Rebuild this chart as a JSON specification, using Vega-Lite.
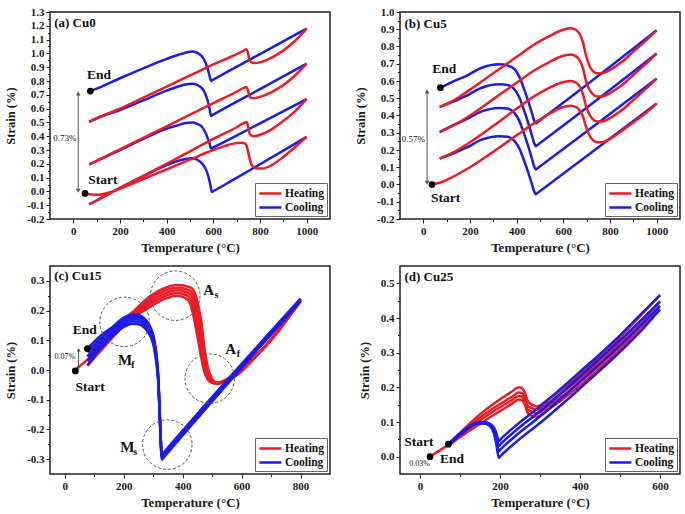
{
"$schema":"https://vega.github.io/schema/vega-lite/v6.json",
"background":"white",
"padding":{"left":3,"top":5,"right":0,"bottom":0},
"config":{
 "view":{"stroke":"#222","strokeWidth":1.5},
 "axis":{"grid":false,"domain":false,"labelFont":"Liberation Serif","labelFontWeight":"bold","labelFontSize":11,"labelColor":"#1a1a1a","titleFont":"Liberation Serif","titleFontWeight":"bold","titleFontSize":13,"titleColor":"#1a1a1a","tickColor":"#222","tickWidth":1,"labelPadding":2,"labelFlush":false,"labelOverlap":false},
 "axisX":{"titlePadding":5},
 "axisY":{"titlePadding":9,"titleFontSize":12.5},
 "legend":{"orient":"bottom-right","offset":3,"strokeColor":"#666","fillColor":"white","padding":3,"symbolType":"M-1,0L2.6,0","symbolStrokeWidth":2.5,"symbolSize":150,"labelFont":"Liberation Serif","labelFontWeight":"bold","labelFontSize":11.5,"labelColor":"#111","rowPadding":1,"labelOffset":12,"cornerRadius":0}
},
"datasets":{
"a":[
{"k":"Heating","c":1,"t":50,"s":-0.015},{"k":"Heating","c":1,"t":80,"s":-0.022},{"k":"Heating","c":1,"t":110,"s":-0.024},{"k":"Heating","c":1,"t":150,"s":-0.01},{"k":"Heating","c":1,"t":200,"s":0.02},{"k":"Heating","c":1,"t":300,"s":0.09},{"k":"Heating","c":1,"t":400,"s":0.16},{"k":"Heating","c":1,"t":500,"s":0.23},{"k":"Heating","c":1,"t":600,"s":0.3},{"k":"Heating","c":1,"t":650,"s":0.33},{"k":"Heating","c":1,"t":690,"s":0.348},{"k":"Heating","c":1,"t":720,"s":0.352},{"k":"Heating","c":1,"t":738,"s":0.345},{"k":"Heating","c":1,"t":746,"s":0.31},{"k":"Heating","c":1,"t":754,"s":0.25},{"k":"Heating","c":1,"t":762,"s":0.2},{"k":"Heating","c":1,"t":772,"s":0.175},{"k":"Heating","c":1,"t":790,"s":0.166},{"k":"Heating","c":1,"t":810,"s":0.166},{"k":"Heating","c":1,"t":850,"s":0.19},{"k":"Heating","c":1,"t":900,"s":0.25},{"k":"Heating","c":1,"t":950,"s":0.32},{"k":"Heating","c":1,"t":1000,"s":0.395},
{"k":"Heating","c":2,"t":68,"s":-0.094},{"k":"Heating","c":2,"t":100,"s":-0.066},{"k":"Heating","c":2,"t":200,"s":0.025},{"k":"Heating","c":2,"t":300,"s":0.112},{"k":"Heating","c":2,"t":400,"s":0.2},{"k":"Heating","c":2,"t":500,"s":0.29},{"k":"Heating","c":2,"t":600,"s":0.38},{"k":"Heating","c":2,"t":700,"s":0.465},{"k":"Heating","c":2,"t":730,"s":0.495},{"k":"Heating","c":2,"t":742,"s":0.502},{"k":"Heating","c":2,"t":748,"s":0.48},{"k":"Heating","c":2,"t":754,"s":0.43},{"k":"Heating","c":2,"t":760,"s":0.408},{"k":"Heating","c":2,"t":772,"s":0.4},{"k":"Heating","c":2,"t":800,"s":0.41},{"k":"Heating","c":2,"t":850,"s":0.45},{"k":"Heating","c":2,"t":900,"s":0.51},{"k":"Heating","c":2,"t":950,"s":0.58},{"k":"Heating","c":2,"t":1000,"s":0.668},
{"k":"Heating","c":3,"t":68,"s":0.195},{"k":"Heating","c":3,"t":100,"s":0.222},{"k":"Heating","c":3,"t":200,"s":0.305},{"k":"Heating","c":3,"t":300,"s":0.388},{"k":"Heating","c":3,"t":400,"s":0.472},{"k":"Heating","c":3,"t":500,"s":0.556},{"k":"Heating","c":3,"t":600,"s":0.64},{"k":"Heating","c":3,"t":700,"s":0.722},{"k":"Heating","c":3,"t":730,"s":0.75},{"k":"Heating","c":3,"t":742,"s":0.757},{"k":"Heating","c":3,"t":748,"s":0.735},{"k":"Heating","c":3,"t":754,"s":0.695},{"k":"Heating","c":3,"t":760,"s":0.68},{"k":"Heating","c":3,"t":772,"s":0.675},{"k":"Heating","c":3,"t":800,"s":0.685},{"k":"Heating","c":3,"t":850,"s":0.72},{"k":"Heating","c":3,"t":900,"s":0.77},{"k":"Heating","c":3,"t":950,"s":0.84},{"k":"Heating","c":3,"t":1000,"s":0.926},
{"k":"Heating","c":4,"t":68,"s":0.504},{"k":"Heating","c":4,"t":100,"s":0.53},{"k":"Heating","c":4,"t":200,"s":0.6},{"k":"Heating","c":4,"t":300,"s":0.68},{"k":"Heating","c":4,"t":400,"s":0.76},{"k":"Heating","c":4,"t":500,"s":0.84},{"k":"Heating","c":4,"t":600,"s":0.92},{"k":"Heating","c":4,"t":700,"s":0.995},{"k":"Heating","c":4,"t":730,"s":1.02},{"k":"Heating","c":4,"t":742,"s":1.03},{"k":"Heating","c":4,"t":748,"s":1.005},{"k":"Heating","c":4,"t":754,"s":0.96},{"k":"Heating","c":4,"t":760,"s":0.94},{"k":"Heating","c":4,"t":775,"s":0.93},{"k":"Heating","c":4,"t":800,"s":0.935},{"k":"Heating","c":4,"t":850,"s":0.97},{"k":"Heating","c":4,"t":900,"s":1.02},{"k":"Heating","c":4,"t":950,"s":1.09},{"k":"Heating","c":4,"t":1000,"s":1.18},
{"k":"Cooling","c":1,"t":68,"s":-0.094},{"k":"Cooling","c":1,"t":100,"s":-0.066},{"k":"Cooling","c":1,"t":200,"s":0.025},{"k":"Cooling","c":1,"t":300,"s":0.11},{"k":"Cooling","c":1,"t":400,"s":0.19},{"k":"Cooling","c":1,"t":450,"s":0.222},{"k":"Cooling","c":1,"t":480,"s":0.235},{"k":"Cooling","c":1,"t":510,"s":0.24},{"k":"Cooling","c":1,"t":530,"s":0.23},{"k":"Cooling","c":1,"t":550,"s":0.205},{"k":"Cooling","c":1,"t":565,"s":0.17},{"k":"Cooling","c":1,"t":577,"s":0.12},{"k":"Cooling","c":1,"t":587,"s":0.05},{"k":"Cooling","c":1,"t":594,"s":-0.005},{"k":"Cooling","c":1,"t":600,"s":0.001},{"k":"Cooling","c":1,"t":700,"s":0.098},{"k":"Cooling","c":1,"t":800,"s":0.197},{"k":"Cooling","c":1,"t":1000,"s":0.395},
{"k":"Cooling","c":2,"t":68,"s":0.195},{"k":"Cooling","c":2,"t":100,"s":0.22},{"k":"Cooling","c":2,"t":200,"s":0.3},{"k":"Cooling","c":2,"t":300,"s":0.38},{"k":"Cooling","c":2,"t":400,"s":0.455},{"k":"Cooling","c":2,"t":450,"s":0.48},{"k":"Cooling","c":2,"t":480,"s":0.495},{"k":"Cooling","c":2,"t":510,"s":0.5},{"k":"Cooling","c":2,"t":530,"s":0.49},{"k":"Cooling","c":2,"t":550,"s":0.47},{"k":"Cooling","c":2,"t":565,"s":0.43},{"k":"Cooling","c":2,"t":577,"s":0.38},{"k":"Cooling","c":2,"t":585,"s":0.34},{"k":"Cooling","c":2,"t":590,"s":0.31},{"k":"Cooling","c":2,"t":596,"s":0.315},{"k":"Cooling","c":2,"t":800,"s":0.493},{"k":"Cooling","c":2,"t":1000,"s":0.668},
{"k":"Cooling","c":3,"t":68,"s":0.504},{"k":"Cooling","c":3,"t":100,"s":0.53},{"k":"Cooling","c":3,"t":200,"s":0.59},{"k":"Cooling","c":3,"t":300,"s":0.66},{"k":"Cooling","c":3,"t":400,"s":0.73},{"k":"Cooling","c":3,"t":450,"s":0.76},{"k":"Cooling","c":3,"t":480,"s":0.775},{"k":"Cooling","c":3,"t":510,"s":0.78},{"k":"Cooling","c":3,"t":530,"s":0.772},{"k":"Cooling","c":3,"t":550,"s":0.75},{"k":"Cooling","c":3,"t":565,"s":0.71},{"k":"Cooling","c":3,"t":577,"s":0.65},{"k":"Cooling","c":3,"t":585,"s":0.59},{"k":"Cooling","c":3,"t":590,"s":0.547},{"k":"Cooling","c":3,"t":596,"s":0.553},{"k":"Cooling","c":3,"t":800,"s":0.741},{"k":"Cooling","c":3,"t":1000,"s":0.926},
{"k":"Cooling","c":4,"t":73,"s":0.727},{"k":"Cooling","c":4,"t":100,"s":0.745},{"k":"Cooling","c":4,"t":200,"s":0.82},{"k":"Cooling","c":4,"t":325,"s":0.91},{"k":"Cooling","c":4,"t":400,"s":0.96},{"k":"Cooling","c":4,"t":450,"s":0.99},{"k":"Cooling","c":4,"t":480,"s":1.005},{"k":"Cooling","c":4,"t":510,"s":1.013},{"k":"Cooling","c":4,"t":530,"s":1.005},{"k":"Cooling","c":4,"t":550,"s":0.98},{"k":"Cooling","c":4,"t":565,"s":0.94},{"k":"Cooling","c":4,"t":577,"s":0.88},{"k":"Cooling","c":4,"t":585,"s":0.83},{"k":"Cooling","c":4,"t":590,"s":0.8},{"k":"Cooling","c":4,"t":596,"s":0.806},{"k":"Cooling","c":4,"t":800,"s":0.995},{"k":"Cooling","c":4,"t":1000,"s":1.18}
],
"b":[
{"k":"Heating","c":1,"t":37,"s":0},{"k":"Heating","c":1,"t":70,"s":0.01},{"k":"Heating","c":1,"t":120,"s":0.04},{"k":"Heating","c":1,"t":200,"s":0.1},{"k":"Heating","c":1,"t":300,"s":0.19},{"k":"Heating","c":1,"t":400,"s":0.285},{"k":"Heating","c":1,"t":480,"s":0.36},{"k":"Heating","c":1,"t":540,"s":0.41},{"k":"Heating","c":1,"t":590,"s":0.445},{"k":"Heating","c":1,"t":632,"s":0.456},{"k":"Heating","c":1,"t":655,"s":0.448},{"k":"Heating","c":1,"t":672,"s":0.425},{"k":"Heating","c":1,"t":685,"s":0.39},{"k":"Heating","c":1,"t":696,"s":0.34},{"k":"Heating","c":1,"t":710,"s":0.29},{"k":"Heating","c":1,"t":725,"s":0.26},{"k":"Heating","c":1,"t":745,"s":0.245},{"k":"Heating","c":1,"t":765,"s":0.245},{"k":"Heating","c":1,"t":800,"s":0.265},{"k":"Heating","c":1,"t":850,"s":0.31},{"k":"Heating","c":1,"t":900,"s":0.36},{"k":"Heating","c":1,"t":950,"s":0.41},{"k":"Heating","c":1,"t":1000,"s":0.469},
{"k":"Heating","c":2,"t":70,"s":0.15},{"k":"Heating","c":2,"t":120,"s":0.18},{"k":"Heating","c":2,"t":200,"s":0.245},{"k":"Heating","c":2,"t":300,"s":0.34},{"k":"Heating","c":2,"t":400,"s":0.44},{"k":"Heating","c":2,"t":480,"s":0.515},{"k":"Heating","c":2,"t":540,"s":0.56},{"k":"Heating","c":2,"t":590,"s":0.59},{"k":"Heating","c":2,"t":632,"s":0.6},{"k":"Heating","c":2,"t":655,"s":0.59},{"k":"Heating","c":2,"t":672,"s":0.565},{"k":"Heating","c":2,"t":685,"s":0.52},{"k":"Heating","c":2,"t":696,"s":0.46},{"k":"Heating","c":2,"t":710,"s":0.41},{"k":"Heating","c":2,"t":725,"s":0.38},{"k":"Heating","c":2,"t":745,"s":0.365},{"k":"Heating","c":2,"t":765,"s":0.365},{"k":"Heating","c":2,"t":800,"s":0.385},{"k":"Heating","c":2,"t":850,"s":0.43},{"k":"Heating","c":2,"t":900,"s":0.49},{"k":"Heating","c":2,"t":950,"s":0.55},{"k":"Heating","c":2,"t":1000,"s":0.614},
{"k":"Heating","c":3,"t":70,"s":0.304},{"k":"Heating","c":3,"t":120,"s":0.335},{"k":"Heating","c":3,"t":200,"s":0.4},{"k":"Heating","c":3,"t":300,"s":0.495},{"k":"Heating","c":3,"t":400,"s":0.59},{"k":"Heating","c":3,"t":480,"s":0.665},{"k":"Heating","c":3,"t":540,"s":0.71},{"k":"Heating","c":3,"t":590,"s":0.742},{"k":"Heating","c":3,"t":632,"s":0.753},{"k":"Heating","c":3,"t":655,"s":0.743},{"k":"Heating","c":3,"t":672,"s":0.716},{"k":"Heating","c":3,"t":685,"s":0.67},{"k":"Heating","c":3,"t":696,"s":0.605},{"k":"Heating","c":3,"t":710,"s":0.555},{"k":"Heating","c":3,"t":725,"s":0.525},{"k":"Heating","c":3,"t":745,"s":0.51},{"k":"Heating","c":3,"t":765,"s":0.51},{"k":"Heating","c":3,"t":800,"s":0.53},{"k":"Heating","c":3,"t":850,"s":0.575},{"k":"Heating","c":3,"t":900,"s":0.635},{"k":"Heating","c":3,"t":950,"s":0.695},{"k":"Heating","c":3,"t":1000,"s":0.759},
{"k":"Heating","c":4,"t":70,"s":0.449},{"k":"Heating","c":4,"t":120,"s":0.48},{"k":"Heating","c":4,"t":200,"s":0.55},{"k":"Heating","c":4,"t":300,"s":0.645},{"k":"Heating","c":4,"t":400,"s":0.74},{"k":"Heating","c":4,"t":480,"s":0.815},{"k":"Heating","c":4,"t":540,"s":0.86},{"k":"Heating","c":4,"t":590,"s":0.893},{"k":"Heating","c":4,"t":632,"s":0.906},{"k":"Heating","c":4,"t":655,"s":0.896},{"k":"Heating","c":4,"t":672,"s":0.868},{"k":"Heating","c":4,"t":685,"s":0.82},{"k":"Heating","c":4,"t":696,"s":0.755},{"k":"Heating","c":4,"t":710,"s":0.695},{"k":"Heating","c":4,"t":725,"s":0.66},{"k":"Heating","c":4,"t":745,"s":0.645},{"k":"Heating","c":4,"t":765,"s":0.645},{"k":"Heating","c":4,"t":800,"s":0.665},{"k":"Heating","c":4,"t":850,"s":0.71},{"k":"Heating","c":4,"t":900,"s":0.77},{"k":"Heating","c":4,"t":950,"s":0.83},{"k":"Heating","c":4,"t":1000,"s":0.894},
{"k":"Cooling","c":1,"t":70,"s":0.15},{"k":"Cooling","c":1,"t":120,"s":0.175},{"k":"Cooling","c":1,"t":188,"s":0.216},{"k":"Cooling","c":1,"t":250,"s":0.26},{"k":"Cooling","c":1,"t":325,"s":0.28},{"k":"Cooling","c":1,"t":360,"s":0.277},{"k":"Cooling","c":1,"t":390,"s":0.253},{"k":"Cooling","c":1,"t":410,"s":0.213},{"k":"Cooling","c":1,"t":430,"s":0.145},{"k":"Cooling","c":1,"t":450,"s":0.068},{"k":"Cooling","c":1,"t":465,"s":0.004},{"k":"Cooling","c":1,"t":475,"s":-0.04},{"k":"Cooling","c":1,"t":482,"s":-0.057},{"k":"Cooling","c":1,"t":488,"s":-0.051},{"k":"Cooling","c":1,"t":1000,"s":0.469},
{"k":"Cooling","c":2,"t":70,"s":0.304},{"k":"Cooling","c":2,"t":120,"s":0.339},{"k":"Cooling","c":2,"t":188,"s":0.38},{"k":"Cooling","c":2,"t":250,"s":0.424},{"k":"Cooling","c":2,"t":325,"s":0.444},{"k":"Cooling","c":2,"t":360,"s":0.44},{"k":"Cooling","c":2,"t":390,"s":0.415},{"k":"Cooling","c":2,"t":410,"s":0.373},{"k":"Cooling","c":2,"t":430,"s":0.301},{"k":"Cooling","c":2,"t":450,"s":0.219},{"k":"Cooling","c":2,"t":465,"s":0.151},{"k":"Cooling","c":2,"t":475,"s":0.105},{"k":"Cooling","c":2,"t":482,"s":0.087},{"k":"Cooling","c":2,"t":488,"s":0.093},{"k":"Cooling","c":2,"t":1000,"s":0.614},
{"k":"Cooling","c":3,"t":70,"s":0.449},{"k":"Cooling","c":3,"t":120,"s":0.476},{"k":"Cooling","c":3,"t":188,"s":0.517},{"k":"Cooling","c":3,"t":250,"s":0.561},{"k":"Cooling","c":3,"t":325,"s":0.581},{"k":"Cooling","c":3,"t":360,"s":0.577},{"k":"Cooling","c":3,"t":390,"s":0.552},{"k":"Cooling","c":3,"t":410,"s":0.509},{"k":"Cooling","c":3,"t":430,"s":0.437},{"k":"Cooling","c":3,"t":450,"s":0.355},{"k":"Cooling","c":3,"t":465,"s":0.287},{"k":"Cooling","c":3,"t":475,"s":0.24},{"k":"Cooling","c":3,"t":482,"s":0.222},{"k":"Cooling","c":3,"t":488,"s":0.228},{"k":"Cooling","c":3,"t":1000,"s":0.759},
{"k":"Cooling","c":4,"t":73,"s":0.561},{"k":"Cooling","c":4,"t":120,"s":0.592},{"k":"Cooling","c":4,"t":188,"s":0.633},{"k":"Cooling","c":4,"t":250,"s":0.677},{"k":"Cooling","c":4,"t":325,"s":0.697},{"k":"Cooling","c":4,"t":360,"s":0.69},{"k":"Cooling","c":4,"t":390,"s":0.67},{"k":"Cooling","c":4,"t":410,"s":0.628},{"k":"Cooling","c":4,"t":430,"s":0.56},{"k":"Cooling","c":4,"t":450,"s":0.481},{"k":"Cooling","c":4,"t":465,"s":0.416},{"k":"Cooling","c":4,"t":475,"s":0.371},{"k":"Cooling","c":4,"t":482,"s":0.354},{"k":"Cooling","c":4,"t":488,"s":0.36},{"k":"Cooling","c":4,"t":1000,"s":0.894}
],
"c":[
{"k":"Heating","c":1,"t":36,"s":0},{"k":"Heating","c":1,"t":77,"s":0.035},{"k":"Heating","c":1,"t":150,"s":0.1},{"k":"Heating","c":1,"t":225,"s":0.17},{"k":"Heating","c":1,"t":293,"s":0.215},{"k":"Heating","c":1,"t":340,"s":0.24},{"k":"Heating","c":1,"t":380,"s":0.25},{"k":"Heating","c":1,"t":410,"s":0.242},{"k":"Heating","c":1,"t":425,"s":0.225},{"k":"Heating","c":1,"t":435,"s":0.19},{"k":"Heating","c":1,"t":447,"s":0.13},{"k":"Heating","c":1,"t":460,"s":0.06},{"k":"Heating","c":1,"t":472,"s":0},{"k":"Heating","c":1,"t":484,"s":-0.03},{"k":"Heating","c":1,"t":497,"s":-0.042},{"k":"Heating","c":1,"t":512,"s":-0.045},{"k":"Heating","c":1,"t":530,"s":-0.04},{"k":"Heating","c":1,"t":555,"s":-0.028},{"k":"Heating","c":1,"t":580,"s":-0.012},{"k":"Heating","c":1,"t":620,"s":0.02},{"k":"Heating","c":1,"t":700,"s":0.1},{"k":"Heating","c":1,"t":800,"s":0.231},
{"k":"Heating","c":2,"t":77,"s":0.015},{"k":"Heating","c":2,"t":150,"s":0.095},{"k":"Heating","c":2,"t":225,"s":0.175},{"k":"Heating","c":2,"t":293,"s":0.224},{"k":"Heating","c":2,"t":340,"s":0.249},{"k":"Heating","c":2,"t":380,"s":0.259},{"k":"Heating","c":2,"t":414,"s":0.251},{"k":"Heating","c":2,"t":429,"s":0.234},{"k":"Heating","c":2,"t":439,"s":0.199},{"k":"Heating","c":2,"t":451,"s":0.139},{"k":"Heating","c":2,"t":464,"s":0.06},{"k":"Heating","c":2,"t":476,"s":0},{"k":"Heating","c":2,"t":488,"s":-0.03},{"k":"Heating","c":2,"t":501,"s":-0.042},{"k":"Heating","c":2,"t":516,"s":-0.045},{"k":"Heating","c":2,"t":534,"s":-0.04},{"k":"Heating","c":2,"t":558,"s":-0.028},{"k":"Heating","c":2,"t":583,"s":-0.012},{"k":"Heating","c":2,"t":620,"s":0.021},{"k":"Heating","c":2,"t":700,"s":0.101},{"k":"Heating","c":2,"t":800,"s":0.233},
{"k":"Heating","c":3,"t":77,"s":0.03},{"k":"Heating","c":3,"t":150,"s":0.105},{"k":"Heating","c":3,"t":225,"s":0.18},{"k":"Heating","c":3,"t":293,"s":0.233},{"k":"Heating","c":3,"t":340,"s":0.258},{"k":"Heating","c":3,"t":380,"s":0.268},{"k":"Heating","c":3,"t":418,"s":0.26},{"k":"Heating","c":3,"t":433,"s":0.243},{"k":"Heating","c":3,"t":443,"s":0.208},{"k":"Heating","c":3,"t":455,"s":0.148},{"k":"Heating","c":3,"t":468,"s":0.06},{"k":"Heating","c":3,"t":480,"s":0},{"k":"Heating","c":3,"t":492,"s":-0.03},{"k":"Heating","c":3,"t":505,"s":-0.042},{"k":"Heating","c":3,"t":520,"s":-0.045},{"k":"Heating","c":3,"t":538,"s":-0.04},{"k":"Heating","c":3,"t":561,"s":-0.028},{"k":"Heating","c":3,"t":586,"s":-0.012},{"k":"Heating","c":3,"t":620,"s":0.019},{"k":"Heating","c":3,"t":700,"s":0.102},{"k":"Heating","c":3,"t":800,"s":0.235},
{"k":"Heating","c":4,"t":77,"s":0.045},{"k":"Heating","c":4,"t":150,"s":0.115},{"k":"Heating","c":4,"t":225,"s":0.185},{"k":"Heating","c":4,"t":293,"s":0.242},{"k":"Heating","c":4,"t":340,"s":0.267},{"k":"Heating","c":4,"t":380,"s":0.277},{"k":"Heating","c":4,"t":422,"s":0.269},{"k":"Heating","c":4,"t":437,"s":0.252},{"k":"Heating","c":4,"t":447,"s":0.217},{"k":"Heating","c":4,"t":459,"s":0.157},{"k":"Heating","c":4,"t":472,"s":0.06},{"k":"Heating","c":4,"t":484,"s":0},{"k":"Heating","c":4,"t":496,"s":-0.03},{"k":"Heating","c":4,"t":509,"s":-0.042},{"k":"Heating","c":4,"t":524,"s":-0.045},{"k":"Heating","c":4,"t":542,"s":-0.04},{"k":"Heating","c":4,"t":564,"s":-0.028},{"k":"Heating","c":4,"t":589,"s":-0.012},{"k":"Heating","c":4,"t":620,"s":0.017},{"k":"Heating","c":4,"t":700,"s":0.103},{"k":"Heating","c":4,"t":800,"s":0.237},
{"k":"Heating","c":5,"t":77,"s":0.06},{"k":"Heating","c":5,"t":150,"s":0.125},{"k":"Heating","c":5,"t":225,"s":0.19},{"k":"Heating","c":5,"t":293,"s":0.251},{"k":"Heating","c":5,"t":340,"s":0.276},{"k":"Heating","c":5,"t":380,"s":0.286},{"k":"Heating","c":5,"t":426,"s":0.278},{"k":"Heating","c":5,"t":441,"s":0.261},{"k":"Heating","c":5,"t":451,"s":0.226},{"k":"Heating","c":5,"t":463,"s":0.166},{"k":"Heating","c":5,"t":476,"s":0.06},{"k":"Heating","c":5,"t":488,"s":0},{"k":"Heating","c":5,"t":500,"s":-0.03},{"k":"Heating","c":5,"t":513,"s":-0.042},{"k":"Heating","c":5,"t":528,"s":-0.045},{"k":"Heating","c":5,"t":546,"s":-0.04},{"k":"Heating","c":5,"t":567,"s":-0.028},{"k":"Heating","c":5,"t":592,"s":-0.012},{"k":"Heating","c":5,"t":620,"s":0.015},{"k":"Heating","c":5,"t":700,"s":0.104},{"k":"Heating","c":5,"t":800,"s":0.24},
{"k":"Cooling","c":1,"t":77,"s":0.015},{"k":"Cooling","c":1,"t":120,"s":0.07},{"k":"Cooling","c":1,"t":160,"s":0.112},{"k":"Cooling","c":1,"t":200,"s":0.145},{"k":"Cooling","c":1,"t":230,"s":0.156},{"k":"Cooling","c":1,"t":250,"s":0.154},{"k":"Cooling","c":1,"t":270,"s":0.143},{"k":"Cooling","c":1,"t":290,"s":0.115},{"k":"Cooling","c":1,"t":303,"s":0.075},{"k":"Cooling","c":1,"t":312,"s":0.015},{"k":"Cooling","c":1,"t":318,"s":-0.05},{"k":"Cooling","c":1,"t":322,"s":-0.15},{"k":"Cooling","c":1,"t":326,"s":-0.25},{"k":"Cooling","c":1,"t":329,"s":-0.302},{"k":"Cooling","c":1,"t":335,"s":-0.295},{"k":"Cooling","c":1,"t":800,"s":0.231},
{"k":"Cooling","c":2,"t":77,"s":0.03},{"k":"Cooling","c":2,"t":120,"s":0.082},{"k":"Cooling","c":2,"t":160,"s":0.12},{"k":"Cooling","c":2,"t":200,"s":0.153},{"k":"Cooling","c":2,"t":230,"s":0.164},{"k":"Cooling","c":2,"t":250,"s":0.162},{"k":"Cooling","c":2,"t":270,"s":0.151},{"k":"Cooling","c":2,"t":290,"s":0.123},{"k":"Cooling","c":2,"t":303,"s":0.083},{"k":"Cooling","c":2,"t":312,"s":0.023},{"k":"Cooling","c":2,"t":318,"s":-0.046},{"k":"Cooling","c":2,"t":322,"s":-0.146},{"k":"Cooling","c":2,"t":326,"s":-0.246},{"k":"Cooling","c":2,"t":329,"s":-0.298},{"k":"Cooling","c":2,"t":335,"s":-0.291},{"k":"Cooling","c":2,"t":800,"s":0.233},
{"k":"Cooling","c":3,"t":77,"s":0.045},{"k":"Cooling","c":3,"t":120,"s":0.093},{"k":"Cooling","c":3,"t":160,"s":0.128},{"k":"Cooling","c":3,"t":200,"s":0.161},{"k":"Cooling","c":3,"t":230,"s":0.172},{"k":"Cooling","c":3,"t":250,"s":0.17},{"k":"Cooling","c":3,"t":270,"s":0.159},{"k":"Cooling","c":3,"t":290,"s":0.131},{"k":"Cooling","c":3,"t":303,"s":0.091},{"k":"Cooling","c":3,"t":312,"s":0.031},{"k":"Cooling","c":3,"t":318,"s":-0.042},{"k":"Cooling","c":3,"t":322,"s":-0.142},{"k":"Cooling","c":3,"t":326,"s":-0.242},{"k":"Cooling","c":3,"t":329,"s":-0.294},{"k":"Cooling","c":3,"t":335,"s":-0.287},{"k":"Cooling","c":3,"t":800,"s":0.235},
{"k":"Cooling","c":4,"t":77,"s":0.06},{"k":"Cooling","c":4,"t":120,"s":0.104},{"k":"Cooling","c":4,"t":160,"s":0.136},{"k":"Cooling","c":4,"t":200,"s":0.169},{"k":"Cooling","c":4,"t":230,"s":0.18},{"k":"Cooling","c":4,"t":250,"s":0.178},{"k":"Cooling","c":4,"t":270,"s":0.167},{"k":"Cooling","c":4,"t":290,"s":0.139},{"k":"Cooling","c":4,"t":303,"s":0.099},{"k":"Cooling","c":4,"t":312,"s":0.039},{"k":"Cooling","c":4,"t":318,"s":-0.038},{"k":"Cooling","c":4,"t":322,"s":-0.138},{"k":"Cooling","c":4,"t":326,"s":-0.238},{"k":"Cooling","c":4,"t":329,"s":-0.29},{"k":"Cooling","c":4,"t":335,"s":-0.283},{"k":"Cooling","c":4,"t":800,"s":0.237},
{"k":"Cooling","c":5,"t":77,"s":0.072},{"k":"Cooling","c":5,"t":120,"s":0.114},{"k":"Cooling","c":5,"t":160,"s":0.143},{"k":"Cooling","c":5,"t":200,"s":0.176},{"k":"Cooling","c":5,"t":230,"s":0.187},{"k":"Cooling","c":5,"t":250,"s":0.185},{"k":"Cooling","c":5,"t":270,"s":0.174},{"k":"Cooling","c":5,"t":290,"s":0.146},{"k":"Cooling","c":5,"t":303,"s":0.106},{"k":"Cooling","c":5,"t":312,"s":0.046},{"k":"Cooling","c":5,"t":318,"s":-0.034},{"k":"Cooling","c":5,"t":322,"s":-0.134},{"k":"Cooling","c":5,"t":326,"s":-0.234},{"k":"Cooling","c":5,"t":329,"s":-0.286},{"k":"Cooling","c":5,"t":335,"s":-0.279},{"k":"Cooling","c":5,"t":800,"s":0.24}
],
"d":[
{"k":"Heating","c":1,"t":25,"s":0},{"k":"Heating","c":1,"t":71,"s":0.034},{"k":"Heating","c":1,"t":150,"s":0.095},{"k":"Heating","c":1,"t":230,"s":0.153},{"k":"Heating","c":1,"t":247,"s":0.165},{"k":"Heating","c":1,"t":255,"s":0.163},{"k":"Heating","c":1,"t":262,"s":0.15},{"k":"Heating","c":1,"t":270,"s":0.125},{"k":"Heating","c":1,"t":280,"s":0.118},{"k":"Heating","c":1,"t":292,"s":0.115},{"k":"Heating","c":1,"t":320,"s":0.135},{"k":"Heating","c":1,"t":350,"s":0.16},{"k":"Heating","c":1,"t":400,"s":0.205},{"k":"Heating","c":1,"t":450,"s":0.255},{"k":"Heating","c":1,"t":500,"s":0.31},{"k":"Heating","c":1,"t":550,"s":0.37},{"k":"Heating","c":1,"t":600,"s":0.425},
{"k":"Heating","c":2,"t":71,"s":0.03},{"k":"Heating","c":2,"t":150,"s":0.105},{"k":"Heating","c":2,"t":230,"s":0.163},{"k":"Heating","c":2,"t":247,"s":0.175},{"k":"Heating","c":2,"t":255,"s":0.173},{"k":"Heating","c":2,"t":262,"s":0.16},{"k":"Heating","c":2,"t":270,"s":0.135},{"k":"Heating","c":2,"t":280,"s":0.13},{"k":"Heating","c":2,"t":292,"s":0.125},{"k":"Heating","c":2,"t":320,"s":0.145},{"k":"Heating","c":2,"t":350,"s":0.17},{"k":"Heating","c":2,"t":400,"s":0.215},{"k":"Heating","c":2,"t":450,"s":0.265},{"k":"Heating","c":2,"t":500,"s":0.32},{"k":"Heating","c":2,"t":550,"s":0.378},{"k":"Heating","c":2,"t":600,"s":0.435},
{"k":"Heating","c":3,"t":71,"s":0.033},{"k":"Heating","c":3,"t":150,"s":0.113},{"k":"Heating","c":3,"t":230,"s":0.173},{"k":"Heating","c":3,"t":247,"s":0.185},{"k":"Heating","c":3,"t":255,"s":0.183},{"k":"Heating","c":3,"t":262,"s":0.17},{"k":"Heating","c":3,"t":270,"s":0.145},{"k":"Heating","c":3,"t":280,"s":0.14},{"k":"Heating","c":3,"t":292,"s":0.135},{"k":"Heating","c":3,"t":320,"s":0.155},{"k":"Heating","c":3,"t":350,"s":0.18},{"k":"Heating","c":3,"t":400,"s":0.225},{"k":"Heating","c":3,"t":450,"s":0.275},{"k":"Heating","c":3,"t":500,"s":0.33},{"k":"Heating","c":3,"t":550,"s":0.39},{"k":"Heating","c":3,"t":600,"s":0.447},
{"k":"Heating","c":4,"t":71,"s":0.036},{"k":"Heating","c":4,"t":150,"s":0.122},{"k":"Heating","c":4,"t":230,"s":0.188},{"k":"Heating","c":4,"t":247,"s":0.2},{"k":"Heating","c":4,"t":255,"s":0.198},{"k":"Heating","c":4,"t":262,"s":0.185},{"k":"Heating","c":4,"t":270,"s":0.16},{"k":"Heating","c":4,"t":280,"s":0.15},{"k":"Heating","c":4,"t":292,"s":0.145},{"k":"Heating","c":4,"t":320,"s":0.165},{"k":"Heating","c":4,"t":350,"s":0.19},{"k":"Heating","c":4,"t":400,"s":0.237},{"k":"Heating","c":4,"t":450,"s":0.29},{"k":"Heating","c":4,"t":500,"s":0.345},{"k":"Heating","c":4,"t":550,"s":0.405},{"k":"Heating","c":4,"t":600,"s":0.466},
{"k":"Cooling","c":1,"t":71,"s":0.03},{"k":"Cooling","c":1,"t":90,"s":0.053},{"k":"Cooling","c":1,"t":110,"s":0.072},{"k":"Cooling","c":1,"t":140,"s":0.094},{"k":"Cooling","c":1,"t":160,"s":0.096},{"k":"Cooling","c":1,"t":175,"s":0.088},{"k":"Cooling","c":1,"t":184,"s":0.07},{"k":"Cooling","c":1,"t":191,"s":0.035},{"k":"Cooling","c":1,"t":197,"s":-0.003},{"k":"Cooling","c":1,"t":203,"s":0.004},{"k":"Cooling","c":1,"t":240,"s":0.042},{"k":"Cooling","c":1,"t":300,"s":0.097},{"k":"Cooling","c":1,"t":400,"s":0.197},{"k":"Cooling","c":1,"t":500,"s":0.302},{"k":"Cooling","c":1,"t":550,"s":0.36},{"k":"Cooling","c":1,"t":600,"s":0.425},
{"k":"Cooling","c":2,"t":71,"s":0.033},{"k":"Cooling","c":2,"t":90,"s":0.054},{"k":"Cooling","c":2,"t":110,"s":0.073},{"k":"Cooling","c":2,"t":140,"s":0.095},{"k":"Cooling","c":2,"t":160,"s":0.097},{"k":"Cooling","c":2,"t":175,"s":0.09},{"k":"Cooling","c":2,"t":184,"s":0.075},{"k":"Cooling","c":2,"t":191,"s":0.05},{"k":"Cooling","c":2,"t":197,"s":0.016},{"k":"Cooling","c":2,"t":203,"s":0.023},{"k":"Cooling","c":2,"t":240,"s":0.061},{"k":"Cooling","c":2,"t":300,"s":0.116},{"k":"Cooling","c":2,"t":400,"s":0.216},{"k":"Cooling","c":2,"t":500,"s":0.321},{"k":"Cooling","c":2,"t":550,"s":0.378},{"k":"Cooling","c":2,"t":600,"s":0.435},
{"k":"Cooling","c":3,"t":71,"s":0.036},{"k":"Cooling","c":3,"t":90,"s":0.055},{"k":"Cooling","c":3,"t":110,"s":0.074},{"k":"Cooling","c":3,"t":140,"s":0.096},{"k":"Cooling","c":3,"t":160,"s":0.098},{"k":"Cooling","c":3,"t":175,"s":0.092},{"k":"Cooling","c":3,"t":184,"s":0.08},{"k":"Cooling","c":3,"t":191,"s":0.06},{"k":"Cooling","c":3,"t":197,"s":0.031},{"k":"Cooling","c":3,"t":203,"s":0.038},{"k":"Cooling","c":3,"t":240,"s":0.076},{"k":"Cooling","c":3,"t":300,"s":0.131},{"k":"Cooling","c":3,"t":400,"s":0.231},{"k":"Cooling","c":3,"t":500,"s":0.336},{"k":"Cooling","c":3,"t":550,"s":0.39},{"k":"Cooling","c":3,"t":600,"s":0.447},
{"k":"Cooling","c":4,"t":71,"s":0.036},{"k":"Cooling","c":4,"t":90,"s":0.057},{"k":"Cooling","c":4,"t":110,"s":0.076},{"k":"Cooling","c":4,"t":140,"s":0.098},{"k":"Cooling","c":4,"t":160,"s":0.1},{"k":"Cooling","c":4,"t":175,"s":0.095},{"k":"Cooling","c":4,"t":184,"s":0.085},{"k":"Cooling","c":4,"t":191,"s":0.068},{"k":"Cooling","c":4,"t":197,"s":0.045},{"k":"Cooling","c":4,"t":203,"s":0.052},{"k":"Cooling","c":4,"t":240,"s":0.09},{"k":"Cooling","c":4,"t":300,"s":0.145},{"k":"Cooling","c":4,"t":400,"s":0.245},{"k":"Cooling","c":4,"t":500,"s":0.35},{"k":"Cooling","c":4,"t":550,"s":0.408},{"k":"Cooling","c":4,"t":600,"s":0.466}
],
"ann":[
{"p":"a","g":"ttl","t":-82,"s":1.22,"txt":"(a) Cu0"},
{"p":"a","g":"lab","t":110,"s":0.842,"txt":"End"},
{"p":"a","g":"lab","t":127,"s":0.082,"txt":"Start"},
{"p":"a","g":"pct","t":-36,"s":0.388,"txt":"0.73%"},
{"p":"a","g":"dot","t":50,"s":-0.015},
{"p":"a","g":"dot","t":73,"s":0.727},
{"p":"a","g":"rule","t":21,"s":0.01,"s2":0.71},
{"p":"a","g":"head","t":21,"s":0.71,"d":"up"},
{"p":"a","g":"head","t":21,"s":0.005,"d":"down"},
{"p":"b","g":"ttl","t":-81,"s":0.932,"txt":"(b) Cu5"},
{"p":"b","g":"lab","t":90,"s":0.672,"txt":"End"},
{"p":"b","g":"lab","t":96,"s":-0.08,"txt":"Start"},
{"p":"b","g":"pct","t":-43,"s":0.263,"txt":"0.57%"},
{"p":"b","g":"dot","t":37,"s":0},
{"p":"b","g":"dot","t":73,"s":0.561},
{"p":"b","g":"rule","t":16,"s":0.012,"s2":0.54},
{"p":"b","g":"head","t":16,"s":0.54,"d":"up"},
{"p":"b","g":"head","t":16,"s":0.01,"d":"down"},
{"p":"c","g":"ttl","t":-36,"s":0.315,"txt":"(c) Cu15"},
{"p":"c","g":"lab","t":68,"s":0.134,"txt":"End"},
{"p":"c","g":"lab","t":86,"s":-0.057,"txt":"Start"},
{"p":"c","g":"pct","t":0,"s":0.043,"txt":"0.07%"},
{"p":"c","g":"dot","t":36,"s":-0.003},
{"p":"c","g":"dot","t":77,"s":0.072},
{"p":"c","g":"rule","t":47,"s":0.008,"s2":0.068},
{"p":"c","g":"head","t":47,"s":0.068,"d":"up"},
{"p":"c","g":"head","t":47,"s":0.008,"d":"down"},
{"p":"c","g":"circ","t":203,"s":0.162},
{"p":"c","g":"circ","t":375,"s":0.25},
{"p":"c","g":"circ","t":492,"s":-0.029},
{"p":"c","g":"circ","t":348,"s":-0.251},
{"p":"c","g":"big","t":488,"s":0.27,"txt":"A"},
{"p":"c","g":"sub","t":488,"s":0.27,"txt":"s"},
{"p":"c","g":"big","t":563,"s":0.07,"txt":"A"},
{"p":"c","g":"sub","t":563,"s":0.07,"txt":"f"},
{"p":"c","g":"big","t":205,"s":0.033,"txt":"M"},
{"p":"c","g":"sub","t":205,"s":0.033,"txt":"f"},
{"p":"c","g":"big","t":212,"s":-0.258,"txt":"M"},
{"p":"c","g":"sub","t":212,"s":-0.258,"txt":"s"},
{"p":"d","g":"ttl","t":-39,"s":0.519,"txt":"(d) Cu25"},
{"p":"d","g":"lab","t":-3,"s":0.042,"txt":"Start"},
{"p":"d","g":"lab","t":80,"s":-0.008,"txt":"End"},
{"p":"d","g":"pct","t":-1,"s":-0.022,"txt":"0.03%"},
{"p":"d","g":"dot","t":25,"s":0},
{"p":"d","g":"dot","t":71,"s":0.036}
]
},
"columns":2,
"spacing":{"row":10,"column":22},
"resolve":{"scale":{"color":"independent","shape":"independent"}},
"concat":[
{
 "width":280,"height":207,
 "encoding":{
  "x":{"field":"t","type":"quantitative","scale":{"domain":[-100,1100],"nice":false,"zero":false},"axis":{"title":"Temperature (°C)","values":[0,100,200,300,400,500,600,700,800,900,1000],"format":"d","labelExpr":"datum.value % 200 == 0 ? datum.label : ''","tickSize":{"condition":{"test":"datum.value % 200 != 0","value":2.5},"value":4}}},
  "y":{"field":"s","type":"quantitative","scale":{"domain":[-0.2,1.3],"nice":false,"zero":false},"axis":{"title":"Strain (%)","values":[-0.2,-0.15,-0.1,-0.05,0,0.05,0.1,0.15,0.2,0.25,0.3,0.35,0.4,0.45,0.5,0.55,0.6,0.65,0.7,0.75,0.8,0.85,0.9,0.95,1,1.05,1.1,1.15,1.2,1.25,1.3],"format":".1f","labelExpr":"abs(round(datum.value*20)) % 2 == 0 ? replace(datum.label, '−', '-') : ''","tickSize":{"condition":{"test":"abs(round(datum.value*20)) % 2 == 1","value":2.5},"value":4}}}
 },
 "layer":[
  {"data":{"name":"a"},"transform":[{"filter":"datum.k == 'Cooling'"}],"mark":{"type":"line","strokeWidth":2.5,"interpolate":"monotone"},"encoding":{"color":{"field":"k","type":"nominal","scale":{"domain":["Heating","Cooling"],"range":["#ec1c24","#1c1ce8"]},"legend":{"title":null}},"detail":{"field":"c","type":"nominal"},"order":{"field":"t","type":"quantitative"}}},
  {"data":{"name":"a"},"transform":[{"filter":"datum.k == 'Heating'"}],"mark":{"type":"line","strokeWidth":2.5,"interpolate":"monotone"},"encoding":{"color":{"field":"k","type":"nominal","scale":{"domain":["Heating","Cooling"],"range":["#ec1c24","#1c1ce8"]},"legend":{"title":null}},"detail":{"field":"c","type":"nominal"},"order":{"field":"t","type":"quantitative"}}},
  {"data":{"name":"ann"},"transform":[{"filter":"datum.p == 'a' && datum.g == 'rule'"}],"mark":{"type":"rule","color":"#555","strokeWidth":1},"encoding":{"y2":{"field":"s2"}}},
  {"data":{"name":"ann"},"transform":[{"filter":"datum.p == 'a' && datum.g == 'head'"}],"mark":{"type":"point","filled":true,"color":"#555","size":22,"opacity":1},"encoding":{"shape":{"field":"d","type":"nominal","scale":{"domain":["up","down"],"range":["triangle-up","triangle-down"]},"legend":null}}},
  {"data":{"name":"ann"},"transform":[{"filter":"datum.p == 'a' && datum.g == 'dot'"}],"mark":{"type":"point","filled":true,"color":"#000","size":45,"opacity":1},"encoding":{}},
  {"data":{"name":"ann"},"transform":[{"filter":"datum.p == 'a' && datum.g == 'lab'"}],"mark":{"type":"text","font":"Liberation Serif","fontWeight":"bold","fontSize":13.5,"color":"#111"},"encoding":{"text":{"field":"txt"}}},
  {"data":{"name":"ann"},"transform":[{"filter":"datum.p == 'a' && datum.g == 'ttl'"}],"mark":{"type":"text","align":"left","font":"Liberation Serif","fontWeight":"bold","fontSize":13,"color":"#111"},"encoding":{"text":{"field":"txt"}}},
  {"data":{"name":"ann"},"transform":[{"filter":"datum.p == 'a' && datum.g == 'pct'"}],"mark":{"type":"text","font":"Liberation Serif","fontSize":9,"color":"#111"},"encoding":{"text":{"field":"txt"}}}
 ]
},
{
 "width":280,"height":207,
 "encoding":{
  "x":{"field":"t","type":"quantitative","scale":{"domain":[-100,1100],"nice":false,"zero":false},"axis":{"title":"Temperature (°C)","values":[0,100,200,300,400,500,600,700,800,900,1000],"format":"d","labelExpr":"datum.value % 200 == 0 ? datum.label : ''","tickSize":{"condition":{"test":"datum.value % 200 != 0","value":2.5},"value":4}}},
  "y":{"field":"s","type":"quantitative","scale":{"domain":[-0.2,1.0],"nice":false,"zero":false},"axis":{"title":"Strain (%)","values":[-0.2,-0.15,-0.1,-0.05,0,0.05,0.1,0.15,0.2,0.25,0.3,0.35,0.4,0.45,0.5,0.55,0.6,0.65,0.7,0.75,0.8,0.85,0.9,0.95,1],"format":".1f","labelExpr":"abs(round(datum.value*20)) % 2 == 0 ? replace(datum.label, '−', '-') : ''","tickSize":{"condition":{"test":"abs(round(datum.value*20)) % 2 == 1","value":2.5},"value":4}}}
 },
 "layer":[
  {"data":{"name":"b"},"transform":[{"filter":"datum.k == 'Cooling'"}],"mark":{"type":"line","strokeWidth":2.5,"interpolate":"monotone"},"encoding":{"color":{"field":"k","type":"nominal","scale":{"domain":["Heating","Cooling"],"range":["#ec1c24","#1c1ce8"]},"legend":{"title":null}},"detail":{"field":"c","type":"nominal"},"order":{"field":"t","type":"quantitative"}}},
  {"data":{"name":"b"},"transform":[{"filter":"datum.k == 'Heating'"}],"mark":{"type":"line","strokeWidth":2.5,"interpolate":"monotone"},"encoding":{"color":{"field":"k","type":"nominal","scale":{"domain":["Heating","Cooling"],"range":["#ec1c24","#1c1ce8"]},"legend":{"title":null}},"detail":{"field":"c","type":"nominal"},"order":{"field":"t","type":"quantitative"}}},
  {"data":{"name":"ann"},"transform":[{"filter":"datum.p == 'b' && datum.g == 'rule'"}],"mark":{"type":"rule","color":"#555","strokeWidth":1},"encoding":{"y2":{"field":"s2"}}},
  {"data":{"name":"ann"},"transform":[{"filter":"datum.p == 'b' && datum.g == 'head'"}],"mark":{"type":"point","filled":true,"color":"#555","size":22,"opacity":1},"encoding":{"shape":{"field":"d","type":"nominal","scale":{"domain":["up","down"],"range":["triangle-up","triangle-down"]},"legend":null}}},
  {"data":{"name":"ann"},"transform":[{"filter":"datum.p == 'b' && datum.g == 'dot'"}],"mark":{"type":"point","filled":true,"color":"#000","size":45,"opacity":1},"encoding":{}},
  {"data":{"name":"ann"},"transform":[{"filter":"datum.p == 'b' && datum.g == 'lab'"}],"mark":{"type":"text","font":"Liberation Serif","fontWeight":"bold","fontSize":13.5,"color":"#111"},"encoding":{"text":{"field":"txt"}}},
  {"data":{"name":"ann"},"transform":[{"filter":"datum.p == 'b' && datum.g == 'ttl'"}],"mark":{"type":"text","align":"left","font":"Liberation Serif","fontWeight":"bold","fontSize":13,"color":"#111"},"encoding":{"text":{"field":"txt"}}},
  {"data":{"name":"ann"},"transform":[{"filter":"datum.p == 'b' && datum.g == 'pct'"}],"mark":{"type":"text","font":"Liberation Serif","fontSize":9,"color":"#111"},"encoding":{"text":{"field":"txt"}}}
 ]
},
{
 "width":280,"height":208,
 "encoding":{
  "x":{"field":"t","type":"quantitative","scale":{"domain":[-50,900],"nice":false,"zero":false},"axis":{"title":"Temperature (°C)","values":[0,100,200,300,400,500,600,700,800],"format":"d","labelExpr":"datum.value % 200 == 0 ? datum.label : ''","tickSize":{"condition":{"test":"datum.value % 200 != 0","value":2.5},"value":4}}},
  "y":{"field":"s","type":"quantitative","scale":{"domain":[-0.35,0.35],"nice":false,"zero":false},"axis":{"title":"Strain (%)","values":[-0.3,-0.25,-0.2,-0.15,-0.1,-0.05,0,0.05,0.1,0.15,0.2,0.25,0.3],"format":".1f","labelExpr":"abs(round(datum.value*20)) % 2 == 0 ? replace(datum.label, '−', '-') : ''","tickSize":{"condition":{"test":"abs(round(datum.value*20)) % 2 == 1","value":2.5},"value":4}}}
 },
 "layer":[
  {"data":{"name":"c"},"transform":[{"filter":"datum.k == 'Heating'"}],"mark":{"type":"line","strokeWidth":2.5,"interpolate":"monotone"},"encoding":{"color":{"field":"k","type":"nominal","scale":{"domain":["Heating","Cooling"],"range":["#ec1c24","#1c1ce8"]},"legend":{"title":null}},"detail":{"field":"c","type":"nominal"},"order":{"field":"t","type":"quantitative"}}},
  {"data":{"name":"c"},"transform":[{"filter":"datum.k == 'Cooling'"}],"mark":{"type":"line","strokeWidth":2.5,"interpolate":"monotone"},"encoding":{"color":{"field":"k","type":"nominal","scale":{"domain":["Heating","Cooling"],"range":["#ec1c24","#1c1ce8"]},"legend":{"title":null}},"detail":{"field":"c","type":"nominal"},"order":{"field":"t","type":"quantitative"}}},
  {"data":{"name":"ann"},"transform":[{"filter":"datum.p == 'c' && datum.g == 'circ'"}],"mark":{"type":"point","shape":"circle","filled":false,"color":"#555","strokeWidth":1,"strokeDash":[3,2],"size":2450,"opacity":1},"encoding":{}},
  {"data":{"name":"ann"},"transform":[{"filter":"datum.p == 'c' && datum.g == 'rule'"}],"mark":{"type":"rule","color":"#555","strokeWidth":1},"encoding":{"y2":{"field":"s2"}}},
  {"data":{"name":"ann"},"transform":[{"filter":"datum.p == 'c' && datum.g == 'head'"}],"mark":{"type":"point","filled":true,"color":"#555","size":16,"opacity":1},"encoding":{"shape":{"field":"d","type":"nominal","scale":{"domain":["up","down"],"range":["triangle-up","triangle-down"]},"legend":null}}},
  {"data":{"name":"ann"},"transform":[{"filter":"datum.p == 'c' && datum.g == 'dot'"}],"mark":{"type":"point","filled":true,"color":"#000","size":45,"opacity":1},"encoding":{}},
  {"data":{"name":"ann"},"transform":[{"filter":"datum.p == 'c' && datum.g == 'lab'"}],"mark":{"type":"text","font":"Liberation Serif","fontWeight":"bold","fontSize":13.5,"color":"#111"},"encoding":{"text":{"field":"txt"}}},
  {"data":{"name":"ann"},"transform":[{"filter":"datum.p == 'c' && datum.g == 'ttl'"}],"mark":{"type":"text","align":"left","font":"Liberation Serif","fontWeight":"bold","fontSize":13,"color":"#111"},"encoding":{"text":{"field":"txt"}}},
  {"data":{"name":"ann"},"transform":[{"filter":"datum.p == 'c' && datum.g == 'pct'"}],"mark":{"type":"text","font":"Liberation Serif","fontSize":8,"color":"#111"},"encoding":{"text":{"field":"txt"}}},
  {"data":{"name":"ann"},"transform":[{"filter":"datum.p == 'c' && datum.g == 'big'"}],"mark":{"type":"text","font":"Liberation Serif","fontWeight":"bold","fontSize":15,"color":"#111"},"encoding":{"text":{"field":"txt"}}},
  {"data":{"name":"ann"},"transform":[{"filter":"datum.p == 'c' && datum.g == 'sub'"}],"mark":{"type":"text","align":"left","dx":6,"dy":5,"font":"Liberation Serif","fontWeight":"bold","fontSize":10,"color":"#111"},"encoding":{"text":{"field":"txt"}}}
 ]
},
{
 "width":280,"height":208,
 "encoding":{
  "x":{"field":"t","type":"quantitative","scale":{"domain":[-50,650],"nice":false,"zero":false},"axis":{"title":"Temperature (°C)","values":[0,100,200,300,400,500,600],"format":"d","labelExpr":"datum.value % 200 == 0 ? datum.label : ''","tickSize":{"condition":{"test":"datum.value % 200 != 0","value":2.5},"value":4}}},
  "y":{"field":"s","type":"quantitative","scale":{"domain":[-0.05,0.55],"nice":false,"zero":false},"axis":{"title":"Strain (%)","values":[0,0.05,0.1,0.15,0.2,0.25,0.3,0.35,0.4,0.45,0.5],"format":".1f","labelExpr":"abs(round(datum.value*20)) % 2 == 0 ? replace(datum.label, '−', '-') : ''","tickSize":{"condition":{"test":"abs(round(datum.value*20)) % 2 == 1","value":2.5},"value":4}}}
 },
 "layer":[
  {"data":{"name":"d"},"transform":[{"filter":"datum.k == 'Heating'"}],"mark":{"type":"line","strokeWidth":2.5,"interpolate":"monotone"},"encoding":{"color":{"field":"k","type":"nominal","scale":{"domain":["Heating","Cooling"],"range":["#ec1c24","#1c1ce8"]},"legend":{"title":null}},"detail":{"field":"c","type":"nominal"},"order":{"field":"t","type":"quantitative"}}},
  {"data":{"name":"d"},"transform":[{"filter":"datum.k == 'Cooling'"}],"mark":{"type":"line","strokeWidth":2.5,"interpolate":"monotone"},"encoding":{"color":{"field":"k","type":"nominal","scale":{"domain":["Heating","Cooling"],"range":["#ec1c24","#1c1ce8"]},"legend":{"title":null}},"detail":{"field":"c","type":"nominal"},"order":{"field":"t","type":"quantitative"}}},
  {"data":{"name":"ann"},"transform":[{"filter":"datum.p == 'd' && datum.g == 'dot'"}],"mark":{"type":"point","filled":true,"color":"#000","size":45,"opacity":1},"encoding":{}},
  {"data":{"name":"ann"},"transform":[{"filter":"datum.p == 'd' && datum.g == 'lab'"}],"mark":{"type":"text","font":"Liberation Serif","fontWeight":"bold","fontSize":13.5,"color":"#111"},"encoding":{"text":{"field":"txt"}}},
  {"data":{"name":"ann"},"transform":[{"filter":"datum.p == 'd' && datum.g == 'ttl'"}],"mark":{"type":"text","align":"left","font":"Liberation Serif","fontWeight":"bold","fontSize":13,"color":"#111"},"encoding":{"text":{"field":"txt"}}},
  {"data":{"name":"ann"},"transform":[{"filter":"datum.p == 'd' && datum.g == 'pct'"}],"mark":{"type":"text","font":"Liberation Serif","fontSize":8,"color":"#111"},"encoding":{"text":{"field":"txt"}}}
 ]
}
]
}
